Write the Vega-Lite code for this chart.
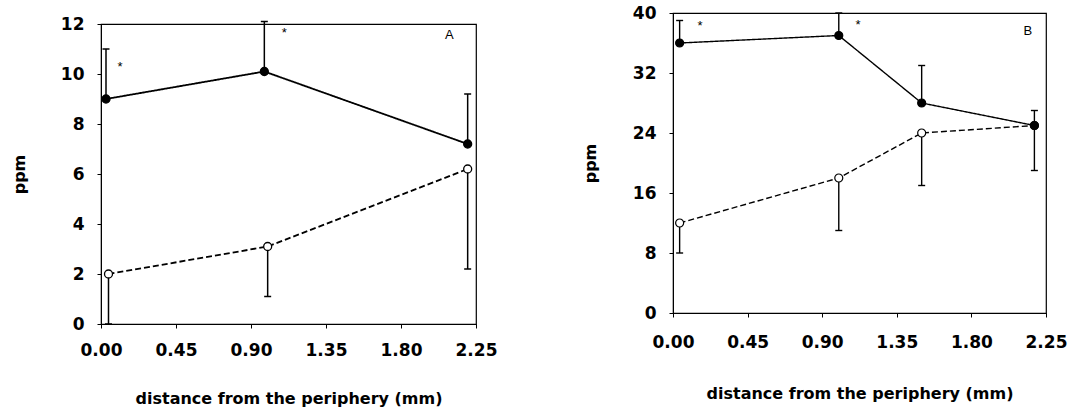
{
  "$schema": "https://vega.github.io/schema/vega-lite/v6.json",
  "background": "white",
  "padding": {"left": 10, "top": 3, "right": 5, "bottom": 3},
  "datasets": {
    "pts": [
      {"panel": "A", "series": "open", "x": 0.045, "y": 2.0, "e": 0.0},
      {"panel": "A", "series": "open", "x": 1.0, "y": 3.1, "e": 1.1},
      {"panel": "A", "series": "open", "x": 2.2, "y": 6.2, "e": 2.2},
      {"panel": "A", "series": "filled", "x": 0.03, "y": 9.0, "e": 11.0},
      {"panel": "A", "series": "filled", "x": 0.98, "y": 10.1, "e": 12.1},
      {"panel": "A", "series": "filled", "x": 2.2, "y": 7.2, "e": 9.2},
      {"panel": "B", "series": "open", "x": 0.04, "y": 12.0, "e": 8.0},
      {"panel": "B", "series": "open", "x": 1.0, "y": 18.0, "e": 11.0},
      {"panel": "B", "series": "open", "x": 1.5, "y": 24.0, "e": 17.0},
      {"panel": "B", "series": "open", "x": 2.18, "y": 25.0, "e": 19.0},
      {"panel": "B", "series": "filled", "x": 0.04, "y": 36.0, "e": 39.0},
      {"panel": "B", "series": "filled", "x": 1.0, "y": 37.0, "e": 40.0},
      {"panel": "B", "series": "filled", "x": 1.5, "y": 28.0, "e": 33.0},
      {"panel": "B", "series": "filled", "x": 2.18, "y": 25.0, "e": 27.0}
    ],
    "notes": [
      {"panel": "A", "label": "*", "x": 0.114, "y": 10.3},
      {"panel": "A", "label": "*", "x": 1.10, "y": 11.65},
      {"panel": "A", "label": "A", "x": 2.09, "y": 11.55},
      {"panel": "B", "label": "*", "x": 0.163, "y": 38.3},
      {"panel": "B", "label": "*", "x": 1.116, "y": 38.4},
      {"panel": "B", "label": "B", "x": 2.14, "y": 37.6}
    ]
  },
  "spacing": 83,
  "hconcat": [
    {
      "spacing": 0,
      "vconcat": [
        {
          "width": 375,
          "height": 0.5,
          "data": {"values": [{"t": ""}]},
          "mark": {"type": "text", "text": "", "fontSize": 0},
          "encoding": {},
          "view": {"stroke": null}
        },
        {
          "width": 375,
          "height": 300,
          "encoding": {
            "x": {"field": "x", "type": "quantitative", "scale": {"domain": [0, 2.25], "nice": false, "zero": false},
                  "axis": {"values": [0, 0.45, 0.9, 1.35, 1.8, 2.25], "format": ".2f", "title": "distance from the periphery (mm)", "labelFlush": false, "labelPadding": 14, "titlePadding": 32}},
            "y": {"field": "y", "type": "quantitative", "scale": {"domain": [0, 12], "nice": false},
                  "axis": {"values": [0, 2, 4, 6, 8, 10, 12], "title": "ppm", "labelPadding": 13, "titlePadding": 33}}
          },
          "layer": [
            {
              "data": {"name": "pts"},
              "transform": [{"filter": "datum.panel == 'A'"}],
              "mark": {"type": "line", "color": "black", "strokeWidth": 1.8},
              "encoding": {
                "strokeDash": {"field": "series", "type": "nominal", "scale": {"domain": ["filled", "open"], "range": [[1, 0], [6, 3]]}, "legend": null}
              }
            },
            {
              "data": {"name": "pts"},
              "transform": [{"filter": "datum.panel == 'A'"}],
              "mark": {"type": "rule", "color": "black", "strokeWidth": 1.5},
              "encoding": {"y2": {"field": "e"}}
            },
            {
              "data": {"name": "pts"},
              "transform": [{"filter": "datum.panel == 'A'"}],
              "mark": {"type": "point", "shape": "M-1,0L1,0", "size": 49, "filled": false, "color": "black", "strokeWidth": 1.5, "opacity": 1},
              "encoding": {"y": {"field": "e", "type": "quantitative"}}
            },
            {
              "data": {"name": "pts"},
              "transform": [{"filter": "datum.panel == 'A'"}],
              "mark": {"type": "point", "shape": "circle", "size": 64, "filled": true, "stroke": "black", "strokeWidth": 1.3, "opacity": 1},
              "encoding": {
                "fill": {"field": "series", "type": "nominal", "scale": {"domain": ["filled", "open"], "range": ["black", "white"]}, "legend": null}
              }
            },
            {
              "data": {"name": "notes"},
              "transform": [{"filter": "datum.panel == 'A'"}],
              "mark": {"type": "text", "font": "Liberation Sans", "fontSize": 13, "color": "black"},
              "encoding": {"text": {"field": "label"}}
            }
          ]
        }
      ]
    },
    {
      "width": 373,
      "height": 300,
      "encoding": {
        "x": {"field": "x", "type": "quantitative", "scale": {"domain": [0, 2.25], "nice": false, "zero": false},
              "axis": {"values": [0, 0.45, 0.9, 1.35, 1.8, 2.25], "format": ".2f", "title": "distance from the periphery (mm)", "labelFlush": false, "labelPadding": 17, "titlePadding": 35}},
        "y": {"field": "y", "type": "quantitative", "scale": {"domain": [0, 40], "nice": false},
              "axis": {"values": [0, 8, 16, 24, 32, 40], "title": "ppm", "labelPadding": 13, "titlePadding": 34}}
      },
      "layer": [
        {
          "data": {"name": "pts"},
          "transform": [{"filter": "datum.panel == 'B'"}],
          "mark": {"type": "line", "color": "black", "strokeWidth": 1.4},
          "encoding": {
            "strokeDash": {"field": "series", "type": "nominal", "scale": {"domain": ["filled", "open"], "range": [[1, 0], [6, 3]]}, "legend": null}
          }
        },
        {
          "data": {"name": "pts"},
          "transform": [{"filter": "datum.panel == 'B'"}],
          "mark": {"type": "rule", "color": "black", "strokeWidth": 1.4},
          "encoding": {"y2": {"field": "e"}}
        },
        {
          "data": {"name": "pts"},
          "transform": [{"filter": "datum.panel == 'B'"}],
          "mark": {"type": "point", "shape": "M-1,0L1,0", "size": 49, "filled": false, "color": "black", "strokeWidth": 1.4, "opacity": 1},
          "encoding": {"y": {"field": "e", "type": "quantitative"}}
        },
        {
          "data": {"name": "pts"},
          "transform": [{"filter": "datum.panel == 'B'"}],
          "mark": {"type": "point", "shape": "circle", "size": 64, "filled": true, "stroke": "black", "strokeWidth": 1.2, "opacity": 1},
          "encoding": {
            "fill": {"field": "series", "type": "nominal", "scale": {"domain": ["filled", "open"], "range": ["black", "white"]}, "legend": null}
          }
        },
        {
          "data": {"name": "notes"},
          "transform": [{"filter": "datum.panel == 'B'"}],
          "mark": {"type": "text", "font": "Liberation Sans", "fontSize": 13, "color": "black"},
          "encoding": {"text": {"field": "label"}}
        }
      ]
    }
  ],
  "resolve": {"scale": {"strokeDash": "independent", "fill": "independent"}},
  "config": {
    "view": {"stroke": "black", "strokeWidth": 1.2},
    "axis": {
      "grid": false,
      "domainColor": "black",
      "tickColor": "black",
      "tickSize": 4,
      "labelColor": "black",
      "titleColor": "black",
      "labelFont": "DejaVu Sans",
      "labelFontWeight": "bold",
      "labelFontSize": 17,
      "titleFont": "DejaVu Sans",
      "titleFontWeight": "bold",
      "titleFontSize": 16
    }
  }
}
